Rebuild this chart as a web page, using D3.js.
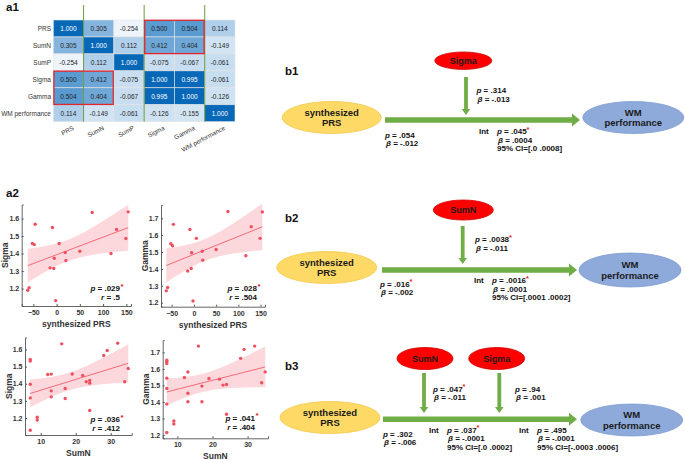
<!DOCTYPE html>
<html><head><meta charset="utf-8">
<script src="https://cdn.jsdelivr.net/npm/d3@7"></script>
<style>body{margin:0;background:#fff} svg{display:block;font-family:"Liberation Sans",Arial,sans-serif}</style>
</head><body><svg id="c" width="685" height="460"></svg>
<script>
// ---------- DATA ----------
const corrLabels = ["PRS","SumN","SumP","Sigma","Gamma","WM performance"];
const corrPRS   = [1.000, 0.305, -0.254, 0.500, 0.504, 0.114];
const corrSumN  = [0.305, 1.000, 0.112, 0.412, 0.404, -0.149];
const corrSumP  = [-0.254, 0.112, 1.000, -0.075, -0.067, -0.061];
const corrSigma = [0.500, 0.412, -0.075, 1.000, 0.995, -0.061];
const corrGamma = [0.504, 0.404, -0.067, 0.995, 1.000, -0.126];
const corrWM    = [0.114, -0.149, -0.061, -0.126, -0.155, 1.000];

const prsScore   = [-62,-59,-52,-48,-46,-14,-9,-6,-5,-2,5.6,18.7,20,50,76.6,117,129,149,154];
const sigmaByPrs = [1.19,1.205,1.457,1.451,1.567,1.318,1.549,1.314,1.373,1.131,1.457,1.406,1.36,1.413,1.634,1.40,1.537,1.486,1.638];
const gammaByPrs = [1.27,1.29,1.549,1.537,1.664,1.388,1.634,1.402,1.496,1.21,1.581,1.505,1.452,1.515,1.74,1.478,1.65,1.581,1.738];

const sumNForSigma = [7,7,7,7,7,9,9,12,13,13,13,16,17,17,19,22,23,24,24,24,28,29,32,34,35];
const sigmaBySumN  = [1.541,1.532,1.397,1.317,1.128,1.204,1.188,1.454,1.456,1.358,1.323,1.633,1.372,1.313,1.457,1.448,1.411,1.419,1.403,1.243,1.565,1.594,1.637,1.411,1.489];
const sumNForGamma = [7,7,7,7,7,7,7,9,9,12,13,13,13,16,17,17,19,22,23,24,24,28,29,32,34,35];
const gammaBySumN  = [1.653,1.643,1.633,1.544,1.482,1.387,1.215,1.285,1.267,1.548,1.581,1.453,1.401,1.738,1.496,1.401,1.542,1.538,1.502,1.506,1.326,1.664,1.718,1.738,1.516,1.582];

const prsTicks  = [-50,0,50,100,150];
const sumNTicks = [10,20,30];
const sigmaTicks = [1.2,1.3,1.4,1.5,1.6];
const gammaTicks = [1.2,1.3,1.4,1.5,1.6,1.7];

const scatterStats = [["p = .029", "r = .5", true],["p = .028","r = .504",true],["p = .036","r = .412",true],["p = .041","r = .404",true]];

// mediation diagrams: [p value, significant, beta, CI]
const b1Mod = ["Sigma"];
const b1Stats = {mod:[".314",false,"-.013"], main:[".054",false,"-.012"], int:[[".045",true,".0004","[.0 .0008]"]]};
const b2Mod = ["SumN"];
const b2Stats = {mod:[".0038",true,"-.011"], main:[".016",true,"-.002"], int:[[".0016",true,".0001","[.0001 .0002]"]]};
const b3Mod = ["SumN","Sigma"];
const b3Stats = {mods:[[".047",true,"-.011"],[".94",false,".001"]], main:[".302",false,"-.006"],
  int:[[".037",true,"-.0001","[.0 .0002]"],[".495",false,"-.0001","[-.0003 .0006]"]]};

// ---------- DRAW ----------
const svg = d3.select("#c");

// panel letters
[["a1",6,11],["a2",6,197],["b1",285,75],["b2",285,222],["b3",285,370]].forEach(d=>{
  svg.append("text").attr("x",d[1]).attr("y",d[2]).attr("font-size",11.5).attr("font-weight","bold").attr("fill","#111").text(d[0]);
});

// ----- heatmap -----
const matrix = [corrPRS,corrSumN,corrSumP,corrSigma,corrGamma,corrWM];
const xB = d3.scaleBand().domain(corrLabels).range([53.3,235]);
const yB = d3.scaleBand().domain(corrLabels).range([20,121.7]);
const hmColor = d3.scaleLinear().domain([-0.254,-0.15,0.1,0.5,1]).range(["#edf4fb","#d2e4f3","#b3d1eb","#5a9bd1","#0868b8"]);
const hm = svg.append("g");
matrix.forEach((row,i)=>row.forEach((v,j)=>{
  const x=xB(corrLabels[j]), y=yB(corrLabels[i]);
  hm.append("rect").attr("x",x).attr("y",y).attr("width",xB.bandwidth()).attr("height",yB.bandwidth())
    .attr("fill",hmColor(v)).attr("stroke","#e4e4e4").attr("stroke-width",0.6);
  hm.append("text").attr("x",x+xB.bandwidth()/2).attr("y",y+yB.bandwidth()/2+2.3).attr("text-anchor","middle")
    .attr("font-size",6.5).attr("fill",v>0.9?"#fff":"#262626").text(v.toFixed(3));
}));
corrLabels.forEach(l=>{
  hm.append("text").attr("x",51).attr("y",yB(l)+yB.bandwidth()/2+2.3).attr("text-anchor","end")
    .attr("font-size",6.5).attr("fill","#333").text(l);
  const cx = xB(l)+xB.bandwidth()/2+4;
  hm.append("text").attr("transform",`translate(${cx},126) rotate(-28)`).attr("text-anchor","end").attr("dy","0.6em")
    .attr("font-size",6.3).attr("fill","#333").text(l);
});
// green dividers
["SumN","Sigma","WM performance"].forEach(l=>{
  hm.append("line").attr("x1",xB(l)).attr("x2",xB(l)).attr("y1",5).attr("y2",121.7).attr("stroke","#6f9a3d").attr("stroke-width",1);
});
// red boxes
hm.append("rect").attr("x",xB("Sigma")+0.6).attr("y",yB("PRS")+0.3).attr("width",2*xB.bandwidth()-1.2).attr("height",2*yB.bandwidth()-0.6)
  .attr("fill","none").attr("stroke","#e3262c").attr("stroke-width",1.3);
hm.append("rect").attr("x",xB("PRS")+0.6).attr("y",yB("Sigma")+0.3).attr("width",2*xB.bandwidth()-1.2).attr("height",2*yB.bandwidth()-0.6)
  .attr("fill","none").attr("stroke","#e3262c").attr("stroke-width",1.3);

// ----- scatter plots -----
function tCrit(df){const z=1.959964;return z+(z**3+z)/(4*df)+(5*z**5+16*z**3+3*z)/(96*df*df);}
function scatter(o){
  const g = svg.append("g");
  const x = d3.scaleLinear().domain(o.xd).range(o.xr);
  const y = d3.scaleLinear().domain(o.yd).range(o.yr);
  // regression + CI
  const n=o.xs.length, mx=d3.mean(o.xs), my=d3.mean(o.ys);
  let sxx=0,sxy=0; o.xs.forEach((v,i)=>{sxx+=(v-mx)**2; sxy+=(v-mx)*(o.ys[i]-my);});
  const b=sxy/sxx, a=my-b*mx;
  let sse=0; o.xs.forEach((v,i)=>{sse+=(o.ys[i]-a-b*v)**2;});
  const s=Math.sqrt(sse/(n-2)), t=tCrit(n-2);
  const [lo,hi]=d3.extent(o.xs);
  const grid=d3.range(0,41).map(k=>lo+(hi-lo)*k/40);
  const band=grid.map(v=>{const yh=a+b*v, h=t*s*Math.sqrt(1/n+(v-mx)**2/sxx);return {v,l:yh-h,u:yh+h};});
  g.append("path").attr("d",d3.area().x(d=>x(d.v)).y0(d=>y(d.l)).y1(d=>y(d.u))(band)).attr("fill","#fcd6da").attr("opacity",0.95);
  g.append("line").attr("x1",x(lo)).attr("x2",x(hi)).attr("y1",y(a+b*lo)).attr("y2",y(a+b*hi)).attr("stroke","#f26a78").attr("stroke-width",1);
  g.selectAll("circle.p").data(o.xs).join("circle").attr("cx",d=>x(d)).attr("cy",(d,i)=>y(o.ys[i])).attr("r",1.7).attr("fill","#f0505f");
  // axes
  const ax=g.append("g").attr("transform",`translate(0,${o.yr[0]})`).call(d3.axisBottom(x).tickValues(o.xt).tickSize(-2).tickPadding(4).tickFormat(d3.format("d")));
  const ay=g.append("g").attr("transform",`translate(${o.xr[0]},0)`).call(d3.axisLeft(y).tickValues(o.yt).tickSize(-2).tickPadding(2.5).tickFormat(d3.format(".1f")));
  [ax,ay].forEach(A=>{A.select(".domain").attr("stroke","#555").attr("stroke-width",0.9);
    A.selectAll(".tick line").attr("stroke","#555");
    A.selectAll(".tick text").attr("font-size",7).attr("font-weight","bold").attr("fill","#333").attr("font-family","Liberation Sans, Arial, sans-serif");});
  g.append("text").attr("x",(o.xr[0]+o.xr[1])/2).attr("y",o.yr[0]+21).attr("text-anchor","middle").attr("font-size",8.5).attr("font-weight","bold").attr("fill","#333").text(o.xTitle);
  g.append("text").attr("transform",`translate(${o.xr[0]-13.4},${(o.yr[0]+o.yr[1])/2}) rotate(-90)`).attr("text-anchor","middle").attr("font-size",8.5).attr("font-weight","bold").attr("fill","#333").text(o.yTitle);
  // stats
  const st=o.stats;
  const p=g.append("text").attr("x",o.tx).attr("y",o.ty).attr("text-anchor","end").attr("font-size",8).attr("font-weight","bold").attr("fill","#111");
  p.append("tspan").attr("font-style","italic").text(st[0].slice(0,1));
  p.append("tspan").text(st[0].slice(1));
  if(st[2]) g.append("text").attr("x",o.tx+0.5).attr("y",o.ty-2.5).attr("font-size",8).attr("font-weight","bold").attr("fill","#e8141e").text("*");
  const r=g.append("text").attr("x",o.tx).attr("y",o.ty+9).attr("text-anchor","end").attr("font-size",8).attr("font-weight","bold").attr("fill","#111");
  r.append("tspan").attr("font-style","italic").text(st[1].slice(0,1));
  r.append("tspan").text(st[1].slice(1));
}
scatter({xs:prsScore,ys:sigmaByPrs,xd:[-75,160],xr:[21.7,131],yd:[1.1,1.68],yr:[306,204.5],xt:prsTicks,yt:sigmaTicks,
  xTitle:"synthesized PRS",yTitle:"Sigma",stats:scatterStats[0],tx:120,ty:291});
scatter({xs:prsScore,ys:gammaByPrs,xd:[-74,160],xr:[161,265],yd:[1.176,1.78],yr:[306.7,204.8],xt:prsTicks,yt:gammaTicks,
  xTitle:"synthesized PRS",yTitle:"Gamma",stats:scatterStats[1],tx:257,ty:291});
scatter({xs:sumNForSigma,ys:sigmaBySumN,xd:[5.5,36],xr:[25,131.7],yd:[1.1,1.67],yr:[435,337.5],xt:sumNTicks,yt:sigmaTicks,
  xTitle:"SumN",yTitle:"Sigma",stats:scatterStats[2],tx:120,ty:422});
scatter({xs:sumNForGamma,ys:gammaBySumN,xd:[5.83,35.8],xr:[162.7,268],yd:[1.18,1.775],yr:[438.3,340],xt:sumNTicks,yt:gammaTicks,
  xTitle:"SumN",yTitle:"Gamma",stats:scatterStats[3],tx:255,ty:420.5});

// ----- mediation diagrams -----
const GREEN="#70ad47";
function ellipse(cx,cy,rx,ry,fill,stroke,lines,fs){
  svg.append("ellipse").attr("cx",cx).attr("cy",cy).attr("rx",rx).attr("ry",ry).attr("fill",fill).attr("stroke",stroke).attr("stroke-width",0.8);
  const off=(lines.length-1)*fs*0.55;
  lines.forEach((l,i)=>svg.append("text").attr("x",cx).attr("y",cy-off+i*fs*1.1+fs*0.36).attr("text-anchor","middle")
    .attr("font-size",fs).attr("font-weight","bold").attr("fill","#1a1a1a").text(l));
}
function hArrow(x0,x1,y){
  const w=2.7,hw=6.5,hl=8;
  svg.append("path").attr("d",`M${x0},${y-w}L${x1-hl},${y-w}L${x1-hl},${y-hw}L${x1},${y}L${x1-hl},${y+hw}L${x1-hl},${y+w}L${x0},${y+w}Z`).attr("fill",GREEN);
}
function vArrow(x,y0,y1){
  const w=1.9,hw=4.3,hl=6;
  svg.append("path").attr("d",`M${x-w},${y0}L${x-w},${y1-hl}L${x-hw},${y1-hl}L${x},${y1}L${x+hw},${y1-hl}L${x+w},${y1-hl}L${x+w},${y0}Z`).attr("fill",GREEN);
}
function statText(x,y,pv,sig,beta,ci,intLabel){
  const fs=8, lh=8.5;
  const t1=svg.append("text").attr("x",x).attr("y",y).attr("font-size",fs).attr("font-weight","bold").attr("fill","#111");
  t1.append("tspan").attr("font-style","italic").text("p");
  t1.append("tspan").text(" = "+pv);
  if(sig) t1.append("tspan").attr("fill","#e8141e").attr("dy",-2.5).attr("font-size",7.5).text("*");
  const t2=svg.append("text").attr("x",x+1).attr("y",y+lh).attr("font-size",fs).attr("font-weight","bold").attr("fill","#111");
  t2.append("tspan").attr("font-style","italic").text("β");
  t2.append("tspan").text(" = "+beta);
  if(ci) svg.append("text").attr("x",x).attr("y",y+2*lh).attr("font-size",fs).attr("font-weight","bold").attr("fill","#111").text("95% CI="+ci);
  if(intLabel) svg.append("text").attr("x",x-18).attr("y",y).attr("font-size",fs).attr("font-weight","bold").attr("fill","#111").text("Int");
}
const YEL="#ffd966", YELS="#f2c94c", BLU="#8eaadb", BLUS="#7f9ccf", RED="#ff0000", REDS="#d00000";

// b1
ellipse(463.3,60.7,28.5,8.7,RED,REDS,[b1Mod[0]],9);
vArrow(466,77,115);
hArrow(385,580,120);
ellipse(331.7,117.5,49.5,16,YEL,YELS,["synthesized","PRS"],9.5);
ellipse(633.3,117.5,50.5,16,BLU,BLUS,["WM","performance"],9.5);
statText(476.5,93,b1Stats.mod[0],b1Stats.mod[1],b1Stats.mod[2]);
statText(385,137.5,b1Stats.main[0],b1Stats.main[1],b1Stats.main[2]);
statText(497,134,...b1Stats.int[0],true);

// b2
ellipse(463.3,210,30,10,RED,REDS,[b2Mod[0]],9);
vArrow(462.7,226,264);
hArrow(382,577,270);
ellipse(326.7,267.5,50,16,YEL,YELS,["synthesized","PRS"],9.5);
ellipse(630,270,51,17,BLU,BLUS,["WM","performance"],9.5);
statText(475,242,b2Stats.mod[0],b2Stats.mod[1],b2Stats.mod[2]);
statText(380,286.5,b2Stats.main[0],b2Stats.main[1],b2Stats.main[2]);
statText(492,283,...b2Stats.int[0],true);

// b3
ellipse(425,358.5,28,11,RED,REDS,[b3Mod[0]],9);
ellipse(496.7,358.5,28,11,RED,REDS,[b3Mod[1]],9);
vArrow(424,373,413);
vArrow(499.3,373,413);
hArrow(383,577,419.3);
ellipse(330,417.5,50,16,YEL,YELS,["synthesized","PRS"],9.5);
ellipse(631.7,420,51,16,BLU,BLUS,["WM","performance"],9.5);
statText(433,391.5,...b3Stats.mods[0]);
statText(515,391.5,...b3Stats.mods[1]);
statText(383,436.5,b3Stats.main[0],b3Stats.main[1],b3Stats.main[2]);
statText(447,432.5,...b3Stats.int[0],true);
statText(537,432.5,...b3Stats.int[1],true);
</script></body></html>
